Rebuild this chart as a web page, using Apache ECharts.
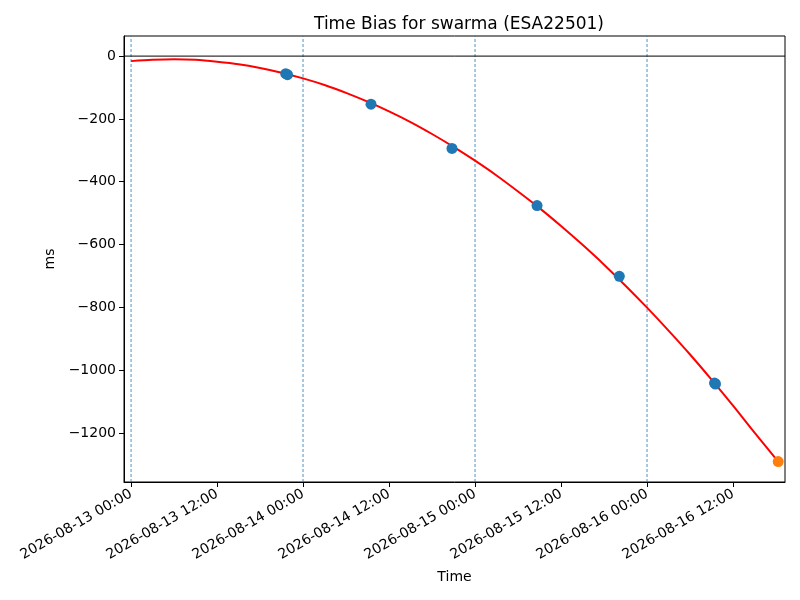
<!DOCTYPE html>
<html>
<head>
<meta charset="utf-8">
<script src="https://cdn.jsdelivr.net/npm/echarts@6/dist/echarts.min.js"></script>
<style>
  html, body { margin: 0; padding: 0; background: #fff; }
  #chart { width: 800px; height: 600px; }
</style>
</head>
<body>
<div id="chart"></div>
<script>
// fitted time bias curve (red line)
var curveTimes = [
  '2026-08-13 00:00', '2026-08-13 03:00', '2026-08-13 06:00', '2026-08-13 09:00',
  '2026-08-13 12:00', '2026-08-13 15:00', '2026-08-13 18:00', '2026-08-13 21:00',
  '2026-08-14 00:00', '2026-08-14 03:00', '2026-08-14 06:00', '2026-08-14 09:00',
  '2026-08-14 12:00', '2026-08-14 15:00', '2026-08-14 18:00', '2026-08-14 21:00',
  '2026-08-15 00:00', '2026-08-15 03:00', '2026-08-15 06:00', '2026-08-15 09:00',
  '2026-08-15 12:00', '2026-08-15 15:00', '2026-08-15 18:00', '2026-08-15 21:00',
  '2026-08-16 00:00', '2026-08-16 03:00', '2026-08-16 06:00', '2026-08-16 09:00',
  '2026-08-16 12:00', '2026-08-16 15:00', '2026-08-16 18:18'
]
var curveValues = [
  -16, -12, -10, -12,
  -18, -26, -38, -53,
  -71, -92, -117, -145,
  -176, -210, -248, -289,
  -333, -380, -431, -484,
  -541, -601, -664, -731,
  -801, -874, -950, -1030,
  -1113, -1199, -1291
]
// measured points (blue)
var measTimes = [
  '2026-08-13 21:35', '2026-08-13 21:50', '2026-08-14 09:29', '2026-08-14 20:47',
  '2026-08-15 08:39', '2026-08-15 20:08', '2026-08-16 09:25', '2026-08-16 09:33'
]
var measValues = [-56, -59, -153, -294, -476, -701, -1041, -1044]
// latest point (orange)
var lastTimes = ['2026-08-16 18:18']
var lastValues = [-1291]

var xTicks = [
  '2026-08-13 00:00', '2026-08-13 12:00', '2026-08-14 00:00', '2026-08-14 12:00',
  '2026-08-15 00:00', '2026-08-15 12:00', '2026-08-16 00:00', '2026-08-16 12:00'
]
var dayLines = ['2026-08-13 00:00', '2026-08-14 00:00', '2026-08-15 00:00', '2026-08-16 00:00']
var yTicks = [0, -200, -400, -600, -800, -1000, -1200]

var xMin = '2026-08-12 23:01', xMax = '2026-08-16 19:15'
var yMin = -1356, yMax = 64

function toMs(s) {
  return new Date(s.replace(' ', 'T') + ':00').getTime()
}
function pad(n) {
  return n < 10 ? '0' + n : '' + n
}
function fmtTime(v) {
  var d = new Date(v)
  return d.getFullYear() + '-' + pad(d.getMonth() + 1) + '-' + pad(d.getDate()) +
    ' ' + pad(d.getHours()) + ':' + pad(d.getMinutes())
}
function pairs(ts, vs) {
  return ts.map(function (t, i) { return [toMs(t), vs[i]] })
}

// dashed day separators, drawn as plain two-point lines
var refSeries = dayLines.map(function (t) {
  return {
    type: 'line',
    data: [[toMs(t), yMin], [toMs(t), yMax]],
    showSymbol: false,
    silent: true,
    lineStyle: { color: '#1f77b4', type: [3, 2], width: 0.8 },
    z: 1
  }
})
refSeries.push({
  type: 'line',
  data: [[toMs(xMin), 0], [toMs(xMax), 0]],
  showSymbol: false,
  silent: true,
  lineStyle: { color: '#000', width: 1 },
  z: 1
})

var font = 'DejaVu Sans'
var chart = echarts.init(document.getElementById('chart'))
chart.setOption({
  animation: false,
  textStyle: { fontFamily: font },
  title: {
    text: 'Time Bias for swarma (ESA22501)',
    left: 454, top: 11, textAlign: 'center',
    textStyle: { fontFamily: font, fontSize: 17, fontWeight: 'normal', color: '#000' }
  },
  grid: {
    left: 124, right: 15, top: 36, bottom: 118,
    show: true, borderColor: '#000', borderWidth: 1
  },
  xAxis: {
    type: 'value',
    min: toMs(xMin),
    max: toMs(xMax),
    name: 'Time',
    nameLocation: 'middle',
    nameGap: 88,
    nameTextStyle: { fontFamily: font, fontSize: 14, color: '#000' },
    axisLine: { show: true, onZero: false, lineStyle: { color: '#000', width: 1 } },
    axisTick: { show: true, length: 5, lineStyle: { color: '#000' }, customValues: xTicks.map(toMs) },
    axisLabel: {
      customValues: xTicks.map(toMs),
      rotate: 30, margin: 11,
      fontFamily: font, fontSize: 14, color: '#000',
      formatter: function (v) { return fmtTime(v) }
    },
    splitLine: { show: false }
  },
  yAxis: {
    type: 'value',
    min: yMin, max: yMax,
    name: 'ms',
    nameLocation: 'middle',
    nameGap: 58,
    nameTextStyle: { fontFamily: font, fontSize: 14, color: '#000' },
    axisLine: { show: true, onZero: false, lineStyle: { color: '#000', width: 1 } },
    axisTick: { show: true, length: 5, lineStyle: { color: '#000' }, customValues: yTicks },
    axisLabel: {
      customValues: yTicks,
      margin: 8,
      fontFamily: font, fontSize: 14, color: '#000',
      formatter: function (v) { return String(v).replace('-', '\u2212') }
    },
    splitLine: { show: false }
  },
  series: refSeries.concat([
    {
      type: 'line',
      data: pairs(curveTimes, curveValues),
      showSymbol: false,
      smooth: 0.3,
      lineStyle: { color: '#ff0000', width: 2 },
      z: 3
    },
    {
      type: 'scatter',
      data: pairs(measTimes, measValues),
      symbolSize: 11,
      itemStyle: { color: '#1f77b4', opacity: 1 },
      z: 4
    },
    {
      type: 'scatter',
      data: pairs(lastTimes, lastValues),
      symbolSize: 11,
      itemStyle: { color: '#ff7f0e', opacity: 1 },
      z: 5
    }
  ])
})
</script>
</body>
</html>
